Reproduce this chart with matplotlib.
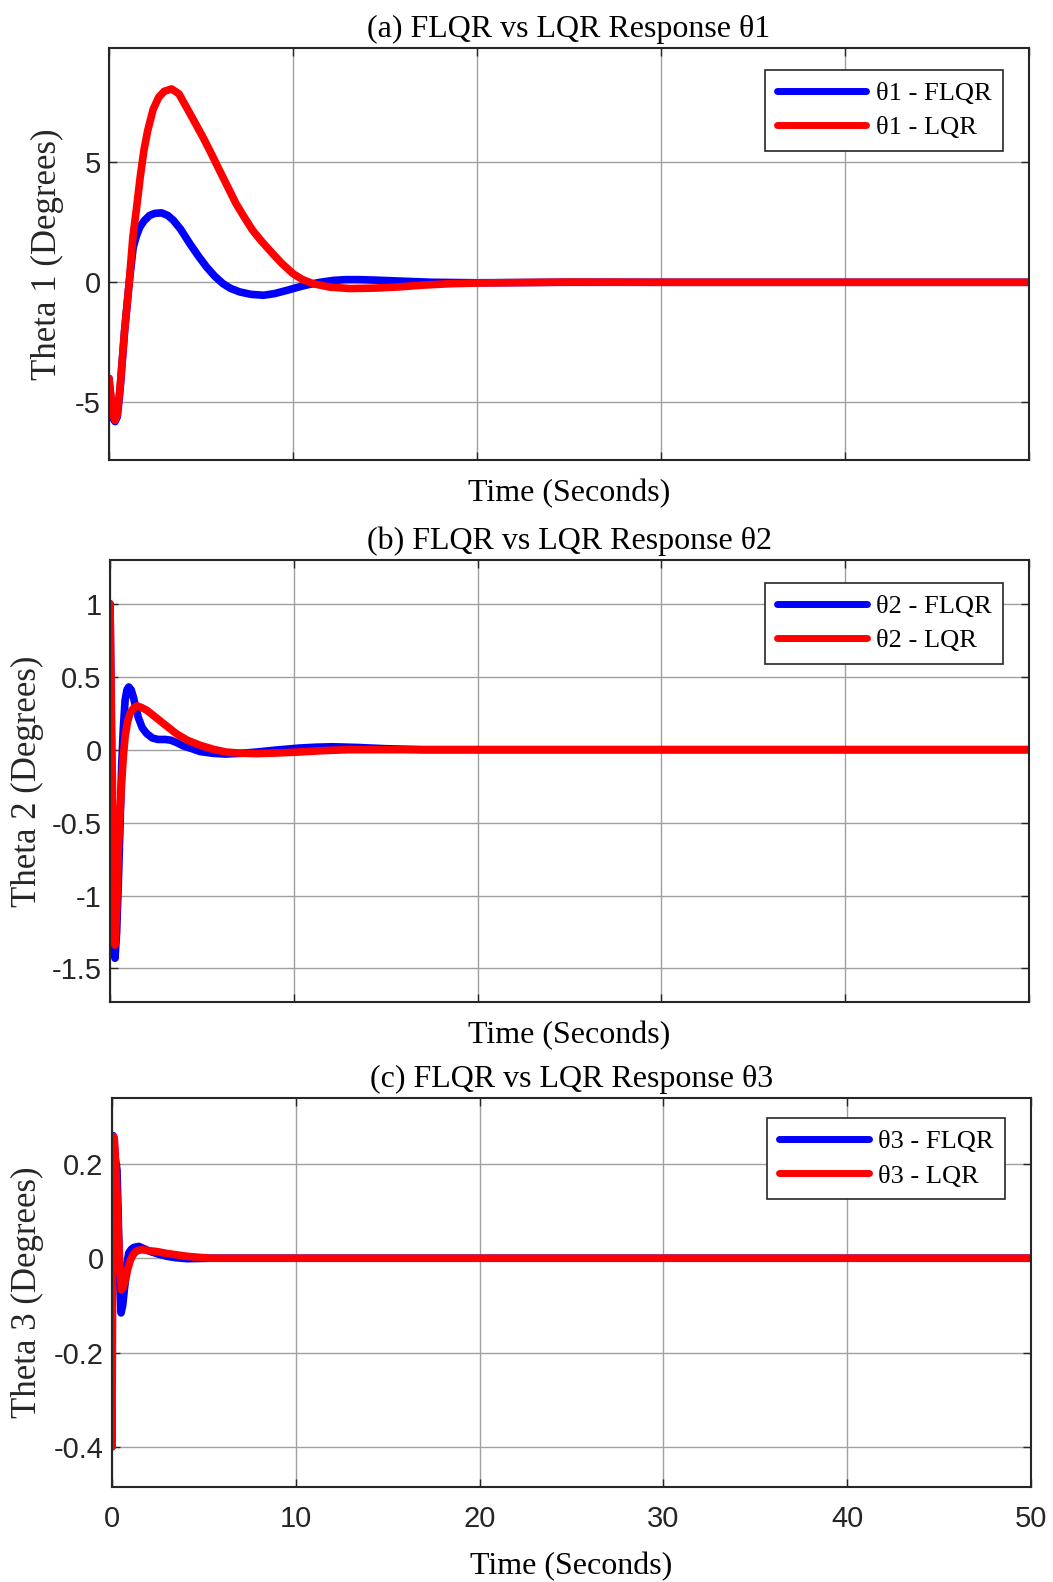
import matplotlib
matplotlib.use("Agg")
import matplotlib.pyplot as plt

plt.rcParams['axes.unicode_minus'] = False

# theta 1 (degrees)
t1_flqr = [0, 0.15, 0.25, 0.33, 0.45, 0.6, 0.85, 1.1, 1.32, 1.5, 1.68, 1.9, 2.2, 2.5, 2.86,
           3.2, 3.5, 3.9, 4.4, 4.85, 5.3, 5.75, 6.2, 6.6, 7.1, 7.7, 8.4, 9.0, 9.7, 10.2,
           10.7, 11.4, 12.2, 12.9, 13.6, 14.5, 15.5, 16.5, 17.6, 20, 25, 50]
th1_flqr = [-4.0, -5.2, -5.7, -5.8, -5.6, -4.5, -2.0, 0.0, 1.47, 1.95, 2.3, 2.55, 2.78, 2.87, 2.89,
            2.78, 2.58, 2.2, 1.6, 1.1, 0.64, 0.25, -0.06, -0.25, -0.4, -0.5, -0.54, -0.47, -0.33, -0.22,
            -0.12, -0.01, 0.08, 0.11, 0.11, 0.09, 0.06, 0.03, 0.0, -0.02, 0.0, 0.0]
t1_lqr = [0, 0.15, 0.25, 0.33, 0.45, 0.6, 0.85, 1.1, 1.3, 1.5, 1.7, 1.9, 2.1, 2.4, 2.7,
          3.0, 3.4, 3.8, 4.2, 4.6, 5.1, 5.5, 6.0, 6.5, 6.9, 7.4, 7.8, 8.3, 8.9, 9.4,
          10.0, 10.5, 11.1, 12.0, 13.1, 14.5, 15.8, 17.0, 18.5, 20, 25, 30, 50]
th1_lqr = [-4.0, -5.1, -5.6, -5.75, -5.5, -4.4, -2.0, 0.0, 1.9, 3.1, 4.4, 5.5, 6.3, 7.2, 7.7,
           7.95, 8.05, 7.85, 7.3, 6.75, 6.05, 5.45, 4.67, 3.9, 3.28, 2.65, 2.17, 1.7, 1.19, 0.78,
           0.36, 0.12, -0.06, -0.2, -0.26, -0.24, -0.19, -0.12, -0.06, -0.03, 0.01, 0.0, 0.0]

# theta 2 (degrees)
t2_flqr = [0, 0.08, 0.15, 0.27, 0.36, 0.45, 0.55, 0.63, 0.72, 0.82, 0.92, 1.02, 1.15, 1.27, 1.4,
           1.54, 1.75, 2.0, 2.3, 2.6, 3.0, 3.3, 3.6, 4.0, 4.5, 4.9, 5.6, 6.3, 7.1, 8.0,
           9.0, 10.3, 11.2, 12.1, 13.5, 14.9, 17, 50]
th2_flqr = [1.0, 0.0, -0.69, -1.43, -1.25, -0.92, -0.5, -0.12, 0.14, 0.34, 0.41, 0.43, 0.41, 0.36, 0.29,
            0.22, 0.15, 0.11, 0.08, 0.07, 0.07, 0.065, 0.05, 0.025, 0.005, -0.013, -0.025, -0.03, -0.025, -0.016,
            -0.003, 0.011, 0.017, 0.02, 0.015, 0.007, 0.0, 0.0]
t2_lqr = [0, 0.1, 0.18, 0.27, 0.36, 0.45, 0.55, 0.63, 0.72, 0.82, 0.95, 1.09, 1.25, 1.45, 1.7,
          2.0, 2.35, 2.7, 3.1, 3.6, 4.2, 4.9, 5.6, 6.3, 7.1, 8.0, 9.0, 10.3, 11.5, 13.0, 50]
th2_lqr = [1.0, 0.0, -0.69, -1.34, -1.1, -0.69, -0.42, -0.23, -0.05, 0.09, 0.19, 0.25, 0.28, 0.30, 0.29,
           0.27, 0.235, 0.2, 0.16, 0.11, 0.065, 0.03, 0.003, -0.016, -0.024, -0.027, -0.023, -0.016, -0.007, 0.0, 0.0]

# theta 3 (degrees)
t3_flqr = [0, 0.02, 0.04, 0.06, 0.1, 0.18, 0.27, 0.33, 0.4, 0.49, 0.58, 0.66, 0.73, 0.82, 0.91,
           1.05, 1.19, 1.46, 1.75, 2.1, 2.5, 3.0, 3.5, 4.1, 5.4, 50]
th3_flqr = [-0.4, 0.0, 0.24, 0.26, 0.25, 0.21, 0.187, 0.1, -0.02, -0.116, -0.1, -0.07, -0.046, -0.01, 0.011,
            0.019, 0.023, 0.025, 0.02, 0.014, 0.009, 0.004, 0.001, -0.001, 0.0, 0.0]
t3_lqr = [0, 0.03, 0.06, 0.09, 0.13, 0.18, 0.24, 0.3, 0.36, 0.43, 0.51, 0.6, 0.73, 0.86, 1.0,
          1.14, 1.28, 1.46, 1.64, 2.0, 2.46, 3.0, 3.56, 4.1, 4.7, 5.4, 50]
th3_lqr = [-0.4, 0.0, 0.2, 0.258, 0.25, 0.21, 0.166, 0.1, 0.039, -0.02, -0.067, -0.062, -0.046, -0.022, -0.004,
           0.007, 0.014, 0.017, 0.018, 0.016, 0.014, 0.01, 0.007, 0.004, 0.002, 0.0, 0.0]

panels = [
    (t1_flqr, th1_flqr, t1_lqr, th1_lqr, "1", "a", (-7.4, 9.75), [-5, 0, 5], ["-5", "0", "5"]),
    (t2_flqr, th2_flqr, t2_lqr, th2_lqr, "2", "b", (-1.73, 1.3), [-1.5, -1, -0.5, 0, 0.5, 1],
     ["-1.5", "-1", "-0.5", "0", "0.5", "1"]),
    (t3_flqr, th3_flqr, t3_lqr, th3_lqr, "3", "c", (-0.485, 0.34), [-0.4, -0.2, 0, 0.2],
     ["-0.4", "-0.2", "0", "0.2"]),
]
rects = [[0.1035, 0.7092, 0.8737, 0.2604],
         [0.1045, 0.3666, 0.8727, 0.2794],
         [0.1064, 0.0601, 0.8727, 0.2459]]
ylab_x = [-0.0674, -0.0903, -0.0925]

serif = "Liberation Serif"
sans = "Liberation Sans"

fig = plt.figure(figsize=(10.53, 15.82), dpi=100)
for i, (tf, yf, tl, yl, n, letter, ylim, yt, ytl) in enumerate(panels):
    ax = fig.add_axes(rects[i])
    ax.plot(tf, yf, color="#0000ff", lw=5.5, label="θ%s - FLQR" % n,
            solid_joinstyle="round", solid_capstyle="round")
    ax.plot(tl, yl, color="#ff0000", lw=5.5, label="θ%s - LQR" % n,
            solid_joinstyle="round", solid_capstyle="round")
    ax.set_xlim(0, 50)
    ax.set_ylim(*ylim)
    ax.set_xticks([0, 10, 20, 30, 40, 50])
    ax.set_yticks(yt)
    ax.set_yticklabels(ytl, family=sans, fontsize=21, color="#262626")
    if i < 2:
        ax.set_xticklabels([])
    else:
        ax.set_xticklabels(["0", "10", "20", "30", "40", "50"], family=sans, fontsize=21, color="#262626")
    ax.tick_params(direction="in", length=6, width=1, top=True, right=True, color="#262626")
    ax.tick_params(axis="x", pad=13)
    ax.tick_params(axis="y", pad=6)
    ax.grid(True, color="#a0a0a0", lw=1.0)
    ax.set_axisbelow(True)
    for s in ax.spines.values():
        s.set_color("#262626")
        s.set_linewidth(1.5)
    ax.set_title("(%s) FLQR vs LQR Response θ%s" % (letter, n), family=serif, fontsize=23, pad=8)
    ax.set_xlabel("Time (Seconds)", family=serif, fontsize=23, va="center")
    ax.set_ylabel("Theta %s (Degrees)" % n, family=serif, fontsize=25, va="center", color="#262626")
    ax.yaxis.set_label_coords(ylab_x[i], 0.5)
    h_px = rects[i][3] * 1582
    if i < 2:
        ax.xaxis.set_label_coords(0.5, -34 / h_px)
    else:
        ax.xaxis.set_label_coords(0.5, -80 / h_px)
    leg = ax.legend(loc="upper right", bbox_to_anchor=(0.972, 0.948), borderaxespad=0,
                    prop={"family": serif, "size": 19}, fancybox=False, framealpha=1,
                    edgecolor="#262626", handlelength=3.4, handletextpad=0.35,
                    labelspacing=0.4, borderpad=0.45)
    leg.get_frame().set_linewidth(1.2)
    for line in leg.get_lines():
        line.set_linewidth(5)

fig.savefig("out.png", dpi=100)
